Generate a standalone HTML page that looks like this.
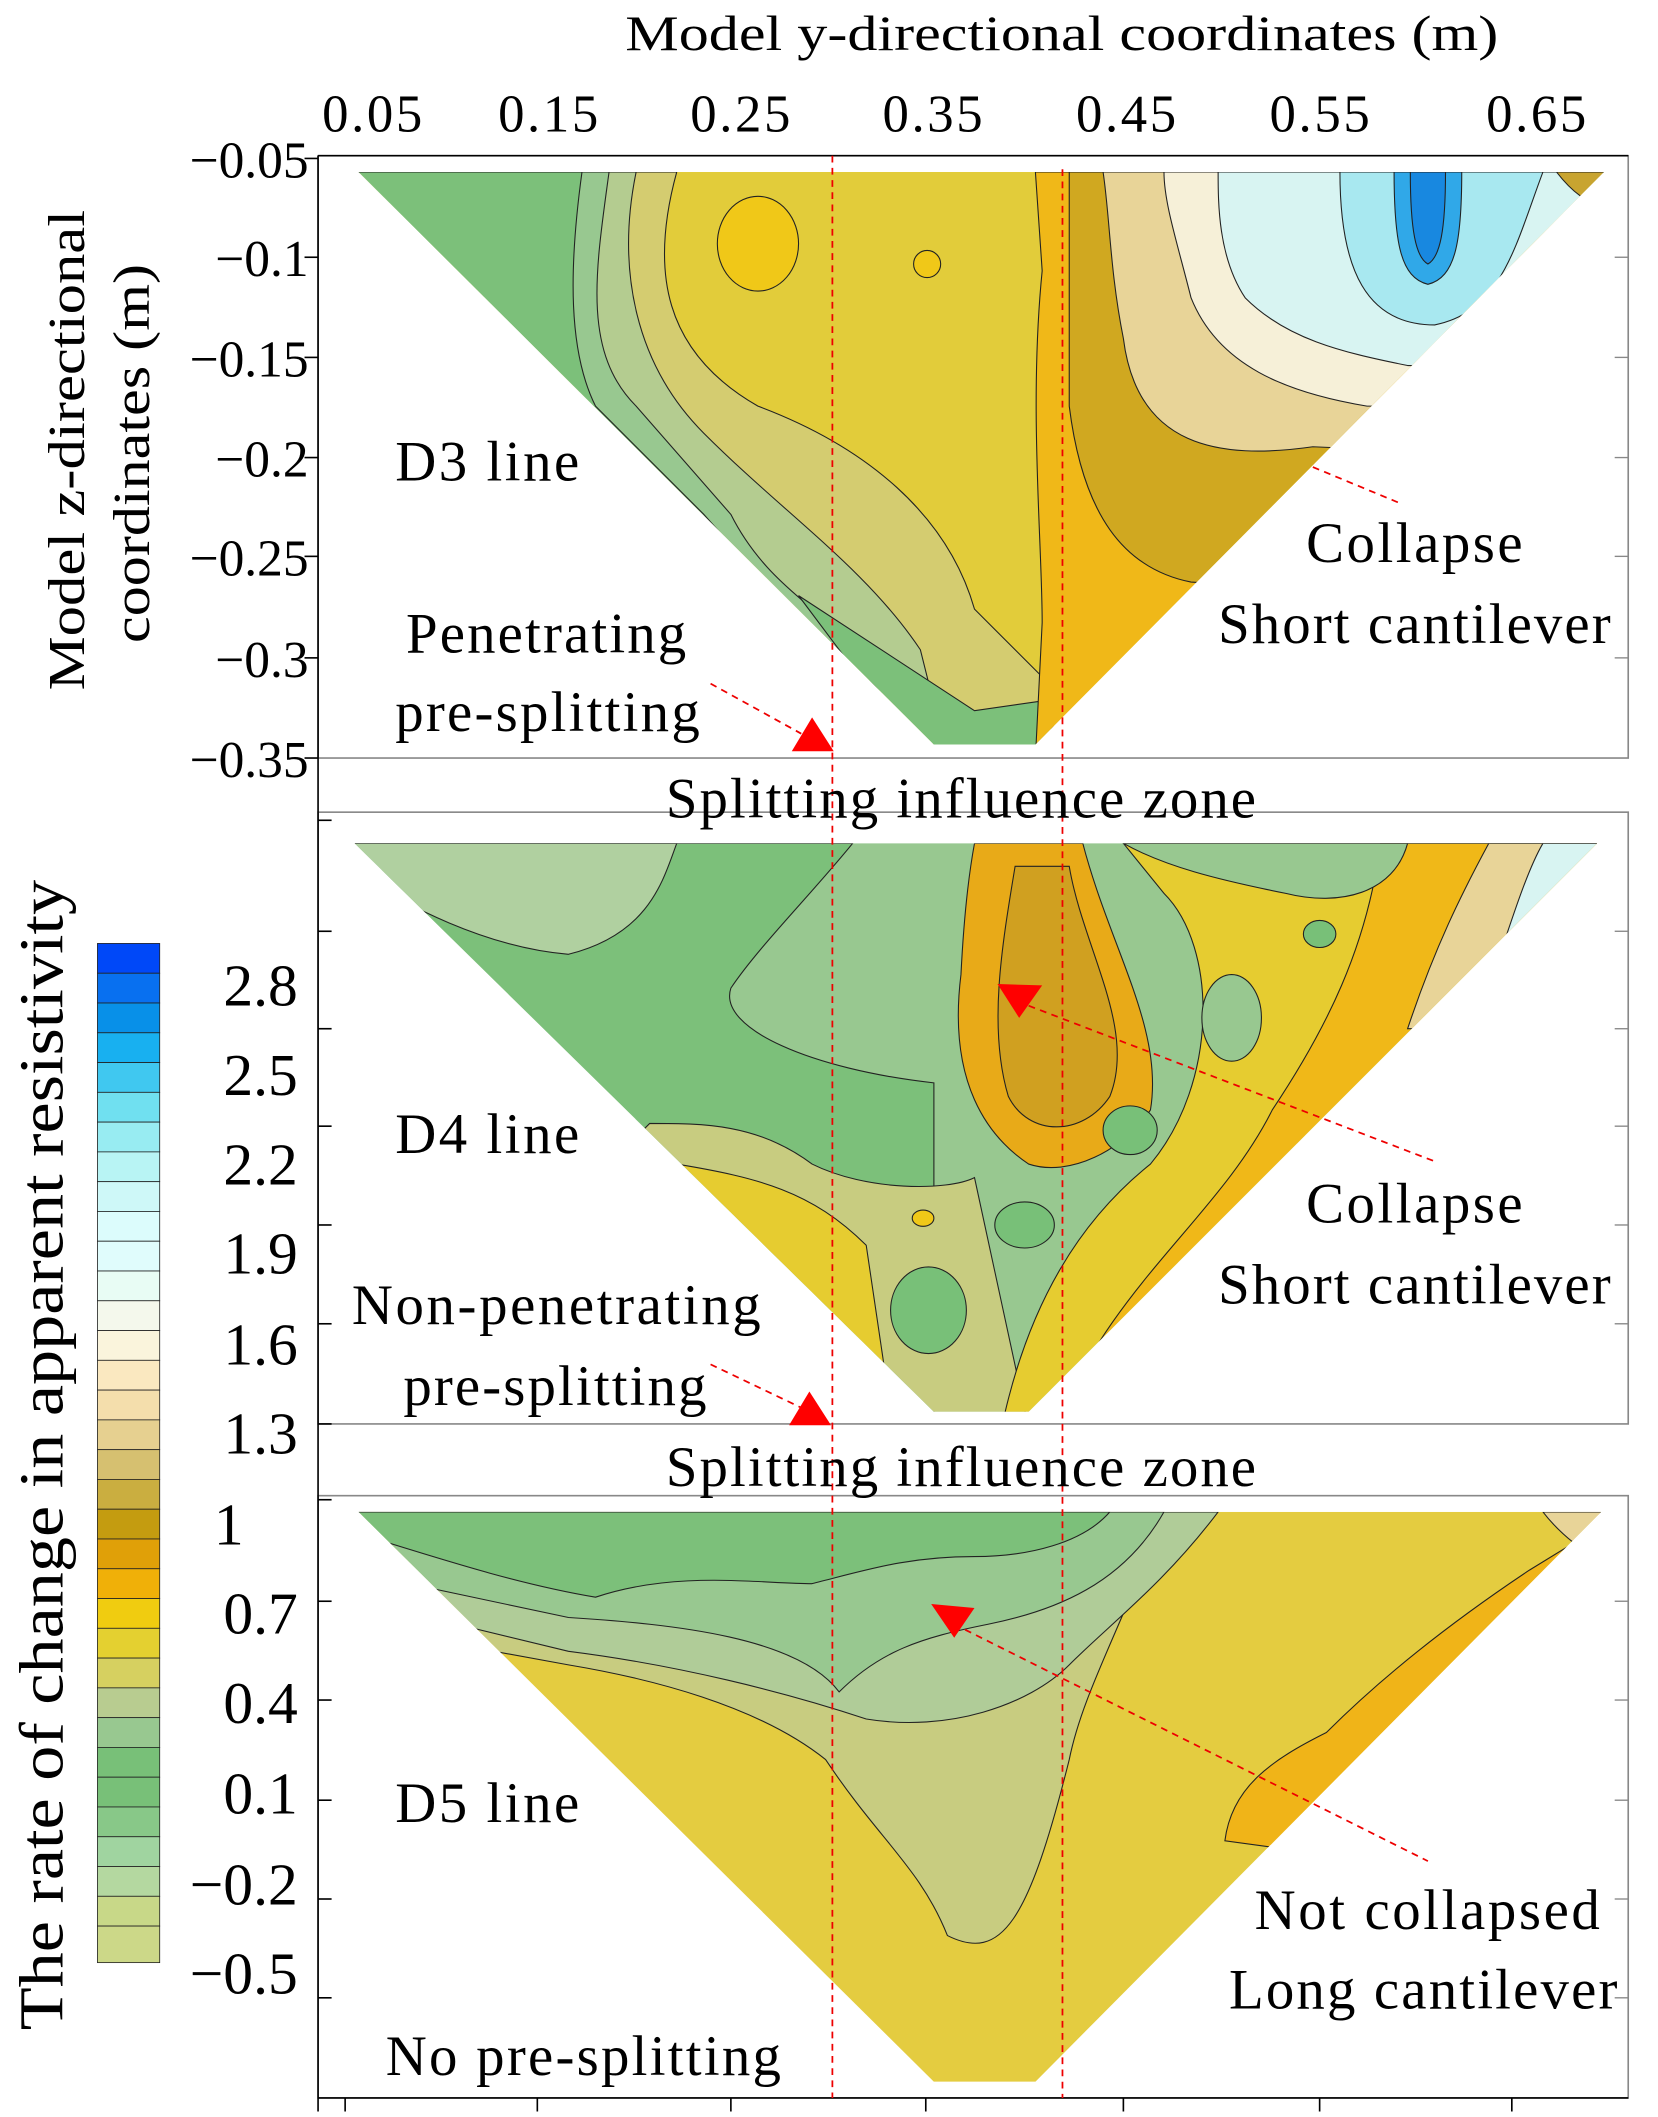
<!DOCTYPE html>
<html><head><meta charset="utf-8"><style>
html,body{margin:0;padding:0;background:#fff}
svg{display:block}
text{font-family:"Liberation Serif","Times New Roman",serif;fill:#000}
</style></head><body>
<svg width="1658" height="2117" viewBox="0 0 1225 1564" xmlns="http://www.w3.org/2000/svg" font-family="Liberation Serif, serif">
<defs>
<clipPath id="c1"><polygon points="265,127 1185,127 765,550 690,550"/></clipPath>
<clipPath id="c2"><polygon points="262,623 1180,623 760,1043 690,1043"/></clipPath>
<clipPath id="c3"><polygon points="265,1117 1183,1117 765,1538 690,1538"/></clipPath>
</defs>
<rect width="1225" height="1564" fill="#fff"/>

<!-- Panel 1 -->
<g clip-path="url(#c1)" stroke="#222" stroke-width="0.8">
<rect x="260" y="120" width="940" height="440" fill="#e2cc3a" stroke="none"/>
<path d="M500,127 C480,200 490,260 560,300 C640,330 700,380 720,450 L790,520 L690,560 L260,560 L260,127Z" fill="#d4cc70"/>
<path d="M470,127 C455,200 470,270 520,320 C580,380 640,420 680,480 L700,560 L260,560 L260,127Z" fill="#b4cc90"/>
<path d="M450,127 C440,200 430,260 470,300 L540,380 C560,420 590,440 600,450 L690,560 L260,560 L260,127Z" fill="#98c890"/>
<path d="M430,127 C420,200 420,260 440,300 L520,380 L600,470 L260,470 L260,127Z" fill="#7cc07a"/>
<path d="M590,440 L720,525 L790,515 L765,560 L680,560 Z" fill="#7cc07a"/>
<path d="M765,127 L1200,127 L1200,560 L765,560 L770,460 C770,400 760,300 770,200 Z" fill="#f0b818"/>
<path d="M790,127 L1200,127 L1200,450 L880,430 C830,420 800,380 790,300 Z" fill="#d0a820"/>
<path d="M815,127 L1200,127 L1200,340 L970,330 C900,340 840,330 830,250 C820,200 820,160 815,127Z" fill="#e8d498"/>
<path d="M860,127 L1200,127 L1200,300 L1010,300 C950,290 900,270 880,220 C870,180 860,150 860,127Z" fill="#f6f0d8"/>
<path d="M900,127 L1200,127 L1200,270 L1040,270 C990,260 950,250 920,220 C900,190 900,150 900,127Z" fill="#d8f4f2"/>
<path d="M990,127 L1140,127 C1120,180 1110,230 1060,240 C1010,240 990,200 990,127Z" fill="#a8e8f0"/>
<path d="M1030,127 L1080,127 C1080,180 1075,205 1055,210 C1035,205 1030,180 1030,127Z" fill="#30a8e8"/>
<path d="M1042,127 L1068,127 C1068,170 1064,190 1055,195 C1046,190 1042,170 1042,127Z" fill="#1888e0"/>
<path d="M1150,127 L1200,127 L1200,160 C1170,150 1160,140 1150,127Z" fill="#c8a430"/>
<ellipse cx="560" cy="180" rx="30" ry="35" fill="#f0c818"/>
<ellipse cx="685" cy="195" rx="10" ry="10" fill="#f0c818"/>
</g>

<!-- Panel 2 -->
<g clip-path="url(#c2)" stroke="#222" stroke-width="0.8">
<rect x="255" y="615" width="940" height="440" fill="#98c890" stroke="none"/>
<path d="M255,623 L630,623 C600,660 560,700 540,730 C530,760 600,790 690,800 L690,1055 L255,1055Z" fill="#7cc07a"/>
<path d="M255,623 L500,623 C490,650 480,690 420,705 C360,700 300,670 255,640Z" fill="#b0d0a0"/>
<path d="M480,830 C520,830 560,830 600,860 C640,880 700,880 720,870 L760,1055 L255,1055Z" fill="#c8cc80"/>
<path d="M500,860 C560,870 600,880 640,920 L660,1055 L255,1055Z" fill="#e6cc30"/>
<path d="M720,623 L800,623 C820,700 860,760 850,820 C830,850 790,870 760,860 C730,840 700,800 710,720 C712,680 715,650 720,623Z" fill="#e8aa18"/>
<path d="M750,640 L790,640 C800,700 840,760 820,810 C800,840 760,840 745,810 C730,760 740,700 750,640Z" fill="#d0a020"/>
<path d="M830,623 L1200,623 L1200,1055 L740,1055 C760,960 800,900 850,860 C900,800 900,700 860,660Z" fill="#e6cc30"/>
<path d="M1020,623 L1200,623 L1200,1055 L780,1055 C820,950 900,900 940,820 C980,760 1010,700 1020,623Z" fill="#f0b818"/>
<path d="M1100,623 L1200,623 L1200,760 L1040,760 C1060,700 1080,660 1100,623Z" fill="#e8d498"/>
<path d="M1140,623 L1200,623 L1200,700 L1110,700 C1120,670 1130,640 1140,623Z" fill="#d8f4f2"/>
<path d="M830,623 L1040,623 C1030,660 990,670 950,660 C900,650 860,640 830,623Z" fill="#98c890"/>
<ellipse cx="910" cy="752" rx="22" ry="32" fill="#98c890"/>
<ellipse cx="975" cy="690" rx="12" ry="10" fill="#78c078"/>
<ellipse cx="835" cy="835" rx="20" ry="18" fill="#78c078"/>
<ellipse cx="757" cy="905" rx="22" ry="17" fill="#78c078"/>
<ellipse cx="686" cy="968" rx="28" ry="32" fill="#78c078"/>
<ellipse cx="682" cy="900" rx="8" ry="6" fill="#f0c818"/>
<path d="M640,1000 L700,1055 L640,1055Z" fill="#98c890"/>
</g>

<!-- Panel 3 -->
<g clip-path="url(#c3)" stroke="#222" stroke-width="0.8">
<rect x="255" y="1110" width="940" height="440" fill="#e4cc40" stroke="none"/>
<path d="M255,1117 L860,1117 C830,1200 800,1250 790,1300 C760,1420 740,1450 700,1430 C680,1380 650,1360 610,1300 C560,1260 480,1240 420,1230 L255,1200Z" fill="#c8cc80"/>
<path d="M255,1117 L900,1117 C860,1170 820,1200 790,1230 C760,1260 700,1280 640,1270 C580,1250 500,1230 420,1220 L255,1180Z" fill="#b0cc98"/>
<path d="M255,1117 L860,1117 C830,1170 780,1190 730,1200 C680,1210 650,1220 620,1250 C590,1210 500,1200 420,1195 L255,1160Z" fill="#98c890"/>
<path d="M255,1117 L820,1117 C800,1140 760,1150 720,1150 C670,1150 640,1160 600,1170 C560,1170 500,1160 440,1180 C380,1170 320,1150 255,1130Z" fill="#7cc07a"/>
<path d="M1130,1160 C1070,1200 1020,1240 980,1280 C940,1300 910,1320 905,1360 L1200,1400 L1200,1117 Z" fill="#f0b418"/>
<path d="M1140,1117 L1200,1117 L1200,1160 C1170,1150 1150,1130 1140,1117Z" fill="#e8d498"/>
</g>

<!-- Frames and axes -->
<g fill="none" stroke="#000" stroke-width="1.2">
<rect x="235" y="115" width="968" height="445" stroke="#888"/>
<rect x="235" y="600" width="968" height="452" stroke="#888"/>
<rect x="235" y="1105" width="968" height="445" stroke="#888"/>
<line x1="235" y1="115" x2="235" y2="1560"/>
<line x1="235" y1="1550" x2="1203" y2="1550"/>
<line x1="235" y1="115" x2="1203" y2="115"/>
</g>
<g stroke="#000" stroke-width="1.2">
<line x1="225" y1="117" x2="235" y2="117"/><line x1="225" y1="190" x2="235" y2="190"/><line x1="225" y1="264" x2="235" y2="264"/><line x1="225" y1="338" x2="235" y2="338"/><line x1="225" y1="411" x2="235" y2="411"/><line x1="225" y1="486" x2="235" y2="486"/><line x1="225" y1="560" x2="235" y2="560"/>
<line x1="235" y1="606" x2="245" y2="606"/><line x1="235" y1="688" x2="245" y2="688"/><line x1="235" y1="760" x2="245" y2="760"/><line x1="235" y1="832" x2="245" y2="832"/><line x1="235" y1="905" x2="245" y2="905"/><line x1="235" y1="978" x2="245" y2="978"/><line x1="235" y1="1052" x2="245" y2="1052"/>
<line x1="235" y1="1108" x2="245" y2="1108"/><line x1="235" y1="1183" x2="245" y2="1183"/><line x1="235" y1="1256" x2="245" y2="1256"/><line x1="235" y1="1330" x2="245" y2="1330"/><line x1="235" y1="1403" x2="245" y2="1403"/><line x1="235" y1="1476" x2="245" y2="1476"/>
<line x1="255" y1="1550" x2="255" y2="1560"/><line x1="397" y1="1550" x2="397" y2="1560"/><line x1="540" y1="1550" x2="540" y2="1560"/><line x1="684" y1="1550" x2="684" y2="1560"/><line x1="830" y1="1550" x2="830" y2="1560"/><line x1="975" y1="1550" x2="975" y2="1560"/><line x1="1117" y1="1550" x2="1117" y2="1560"/>
</g>
<g stroke="#888" stroke-width="1">
<line x1="1193" y1="190" x2="1203" y2="190"/><line x1="1193" y1="264" x2="1203" y2="264"/><line x1="1193" y1="338" x2="1203" y2="338"/><line x1="1193" y1="411" x2="1203" y2="411"/><line x1="1193" y1="486" x2="1203" y2="486"/>
<line x1="1193" y1="688" x2="1203" y2="688"/><line x1="1193" y1="760" x2="1203" y2="760"/><line x1="1193" y1="832" x2="1203" y2="832"/><line x1="1193" y1="905" x2="1203" y2="905"/><line x1="1193" y1="978" x2="1203" y2="978"/>
<line x1="1193" y1="1183" x2="1203" y2="1183"/><line x1="1193" y1="1256" x2="1203" y2="1256"/><line x1="1193" y1="1330" x2="1203" y2="1330"/><line x1="1193" y1="1403" x2="1203" y2="1403"/><line x1="1193" y1="1476" x2="1203" y2="1476"/>
</g>

<text x="462" y="37" font-size="37" textLength="645" lengthAdjust="spacingAndGlyphs">Model y-directional coordinates (m)</text>
<g font-size="39">
<text x="238" y="97" textLength="74">0.05</text><text x="368" y="97" textLength="74">0.15</text><text x="510" y="97" textLength="74">0.25</text><text x="652" y="97" textLength="74">0.35</text><text x="795" y="97" textLength="74">0.45</text><text x="938" y="97" textLength="74">0.55</text><text x="1098" y="97" textLength="74">0.65</text>
</g>
<g font-size="38" text-anchor="end">
<text x="228" y="131">−0.05</text><text x="228" y="204">−0.1</text><text x="228" y="278">−0.15</text><text x="228" y="352">−0.2</text><text x="228" y="425">−0.25</text><text x="228" y="500">−0.3</text><text x="228" y="574">−0.35</text>
</g>
<text transform="translate(62,510) rotate(-90)" font-size="38" textLength="355" lengthAdjust="spacingAndGlyphs">Model z-directional</text>
<text transform="translate(110,475) rotate(-90)" font-size="38" textLength="280" lengthAdjust="spacingAndGlyphs">coordinates (m)</text>

<!-- Colorbar -->
<g stroke="#222" stroke-width="0.6">
<rect x="72" y="697" width="46" height="22" fill="#0048f8"/>
<rect x="72" y="719" width="46" height="22" fill="#0870f0"/>
<rect x="72" y="741" width="46" height="22" fill="#0890e8"/>
<rect x="72" y="763" width="46" height="22" fill="#18b0f0"/>
<rect x="72" y="785" width="46" height="22" fill="#40c8f0"/>
<rect x="72" y="807" width="46" height="22" fill="#70e0f0"/>
<rect x="72" y="829" width="46" height="22" fill="#98ecf2"/>
<rect x="72" y="851" width="46" height="22" fill="#b8f4f4"/>
<rect x="72" y="873" width="46" height="22" fill="#cef8f8"/>
<rect x="72" y="895" width="46" height="22" fill="#dcfcfc"/>
<rect x="72" y="917" width="46" height="22" fill="#e0fcfc"/>
<rect x="72" y="939" width="46" height="22" fill="#e8fcf4"/>
<rect x="72" y="961" width="46" height="22" fill="#f4f8ec"/>
<rect x="72" y="983" width="46" height="22" fill="#faf4dc"/>
<rect x="72" y="1005" width="46" height="22" fill="#fae8c0"/>
<rect x="72" y="1027" width="46" height="22" fill="#f4deac"/>
<rect x="72" y="1049" width="46" height="22" fill="#e6d090"/>
<rect x="72" y="1071" width="46" height="22" fill="#d6c070"/>
<rect x="72" y="1093" width="46" height="22" fill="#caae40"/>
<rect x="72" y="1115" width="46" height="22" fill="#c49c10"/>
<rect x="72" y="1137" width="46" height="22" fill="#e0a008"/>
<rect x="72" y="1159" width="46" height="22" fill="#f0b008"/>
<rect x="72" y="1181" width="46" height="22" fill="#f0cc10"/>
<rect x="72" y="1203" width="46" height="22" fill="#e4d030"/>
<rect x="72" y="1225" width="46" height="22" fill="#d6d060"/>
<rect x="72" y="1247" width="46" height="22" fill="#b8cc90"/>
<rect x="72" y="1269" width="46" height="22" fill="#98c890"/>
<rect x="72" y="1291" width="46" height="22" fill="#78c078"/>
<rect x="72" y="1313" width="46" height="22" fill="#78c078"/>
<rect x="72" y="1335" width="46" height="22" fill="#88c888"/>
<rect x="72" y="1357" width="46" height="22" fill="#a0d4a0"/>
<rect x="72" y="1379" width="46" height="22" fill="#b4d8a0"/>
<rect x="72" y="1401" width="46" height="22" fill="#c8d888"/>
<rect x="72" y="1423" width="46" height="27" fill="#ccd888"/>
</g>
<g font-size="44" text-anchor="end">
<text x="220" y="743">2.8</text><text x="220" y="809">2.5</text><text x="220" y="875">2.2</text><text x="220" y="941">1.9</text><text x="220" y="1008">1.6</text><text x="220" y="1074">1.3</text><text x="180" y="1141">1</text><text x="220" y="1207">0.7</text><text x="220" y="1273">0.4</text><text x="220" y="1340">0.1</text><text x="220" y="1407">−0.2</text><text x="220" y="1473">−0.5</text>
</g>
<text transform="translate(46,1500) rotate(-90)" font-size="46" textLength="850" lengthAdjust="spacingAndGlyphs">The rate of change in apparent resistivity</text>

<!-- Red dashed lines -->
<g stroke="#e00" stroke-width="1.3" stroke-dasharray="5,4" fill="none">
<line x1="615" y1="115" x2="615" y2="1550"/>
<line x1="785" y1="125" x2="785" y2="1550"/>
<line x1="525" y1="505" x2="592" y2="542"/>
<line x1="970" y1="345" x2="1035" y2="372"/>
<line x1="525" y1="1008" x2="592" y2="1040"/>
<line x1="760" y1="743" x2="1060" y2="858"/>
<line x1="705" y1="1200" x2="1055" y2="1375"/>
</g>
<g fill="#f00">
<polygon points="600,530 585,555 616,555"/>
<polygon points="598,1028 583,1053 614,1053"/>
<polygon points="737,727 770,728 753,752"/>
<polygon points="688,1185 720,1188 705,1210"/>
</g>

<!-- Labels -->
<g font-size="42" lengthAdjust="spacingAndGlyphs">
<text x="292" y="355" textLength="136">D3 line</text>
<text x="965" y="415" textLength="160">Collapse</text>
<text x="900" y="475" textLength="290">Short cantilever</text>
<text x="300" y="482" textLength="207">Penetrating</text>
<text x="292" y="540" textLength="225">pre-splitting</text>
<text x="492" y="604" textLength="436">Splitting influence zone</text>
<text x="292" y="852" textLength="136">D4 line</text>
<text x="965" y="903" textLength="160">Collapse</text>
<text x="900" y="963" textLength="290">Short cantilever</text>
<text x="260" y="978" textLength="302">Non-penetrating</text>
<text x="298" y="1038" textLength="224">pre-splitting</text>
<text x="492" y="1098" textLength="436">Splitting influence zone</text>
<text x="292" y="1346" textLength="136">D5 line</text>
<text x="927" y="1425" textLength="255">Not collapsed</text>
<text x="908" y="1484" textLength="287">Long cantilever</text>
<text x="285" y="1533" textLength="292">No pre-splitting</text>
</g>
</svg>
</body></html>
